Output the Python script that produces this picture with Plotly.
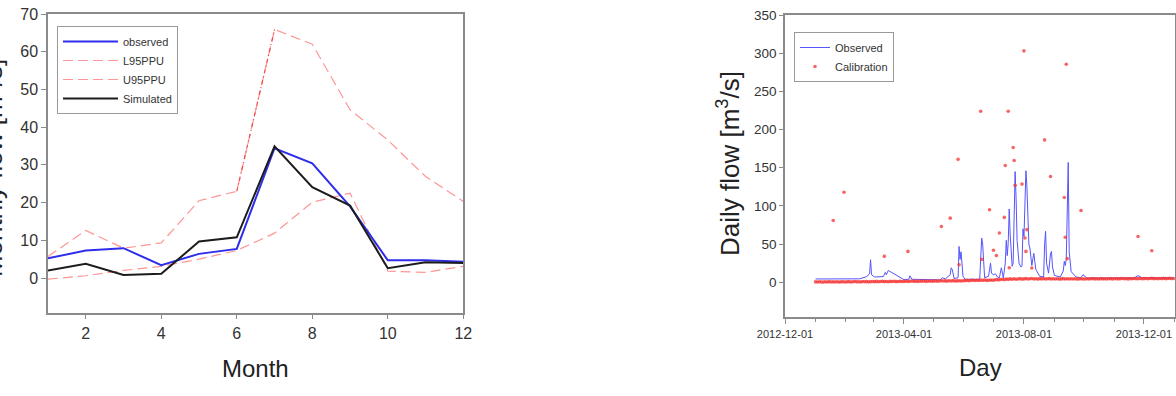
import pandas as pd
import plotly.graph_objects as go

# ---------------- Left chart data (monthly) ----------------
months = [1, 2, 3, 4, 5, 6, 7, 8, 9, 10, 11, 12]
monthly_observed = [5.2, 7.3, 7.9, 3.4, 6.4, 7.7, 34.4, 30.4, 19.0, 4.7, 4.7, 4.3]
monthly_simulated = [2.0, 3.8, 0.8, 1.1, 9.7, 10.8, 34.9, 24.1, 19.2, 2.6, 4.2, 4.0]
l95ppu = [-0.3, 0.6, 2.0, 3.1, 5.0, 7.3, 11.9, 20.1, 22.5, 1.8, 1.5, 3.1]
u95ppu = [5.7, 12.6, 7.9, 9.3, 20.5, 23.0, 65.9, 62.0, 44.6, 36.6, 26.9, 20.3]
month_ticks = [2, 4, 6, 8, 10, 12]
flow_ticks = [0, 10, 20, 30, 40, 50, 60, 70]

# ---------------- Right chart data (daily) ----------------
obs_dates = [
    "2013-01-01", "2013-02-15", "2013-02-22", "2013-02-25", "2013-02-26", "2013-02-27",
    "2013-03-02", "2013-03-11", "2013-03-13", "2013-03-14", "2013-03-16", "2013-03-18",
    "2013-03-25", "2013-04-01", "2013-04-06", "2013-04-07", "2013-04-09", "2013-05-08",
    "2013-05-10", "2013-05-13", "2013-05-18", "2013-05-19", "2013-05-20", "2013-05-22",
    "2013-05-26", "2013-05-27", "2013-05-28", "2013-05-29", "2013-05-31", "2013-06-02",
    "2013-06-17", "2013-06-19", "2013-06-20", "2013-06-22", "2013-06-26", "2013-06-28",
    "2013-06-29", "2013-07-01", "2013-07-03", "2013-07-05", "2013-07-07", "2013-07-09",
    "2013-07-11", "2013-07-13", "2013-07-14", "2013-07-15", "2013-07-16", "2013-07-17",
    "2013-07-18", "2013-07-19", "2013-07-20", "2013-07-21", "2013-07-22", "2013-07-23",
    "2013-07-24", "2013-07-25", "2013-07-27", "2013-07-29", "2013-07-30", "2013-07-31",
    "2013-08-01", "2013-08-02", "2013-08-03", "2013-08-04", "2013-08-05", "2013-08-06",
    "2013-08-07", "2013-08-09", "2013-08-11", "2013-08-12", "2013-08-13", "2013-08-17",
    "2013-08-21", "2013-08-22", "2013-08-23", "2013-08-24", "2013-08-26", "2013-08-28",
    "2013-08-29", "2013-08-30", "2013-09-01", "2013-09-07", "2013-09-10", "2013-09-11",
    "2013-09-12", "2013-09-13", "2013-09-14", "2013-09-15", "2013-09-16", "2013-09-18",
    "2013-09-23", "2013-09-28", "2013-09-30", "2013-10-04", "2013-11-21", "2013-11-25",
    "2013-11-29", "2013-12-31",
]
obs_values = [
    4.4, 4.6, 7.5, 11, 29.6, 10,
    7, 7.5, 13, 10, 15.5, 14,
    8, 3.5, 4, 8.5, 4, 3.2,
    6, 4.5, 10, 19, 17, 5,
    6, 47, 30, 40, 8, 4,
    4, 58, 50, 6, 8, 25,
    12, 10, 11, 7, 6, 19,
    6, 25, 55, 35, 52, 96,
    62, 40, 21, 25, 78, 145,
    110, 55, 25, 20, 22, 70,
    60, 100, 146, 125, 70, 50,
    45, 22, 38, 30, 17, 8,
    7, 50, 66.7, 25, 12, 38,
    40.5, 20, 9, 7, 15, 27.5,
    22, 30, 121, 157, 40, 14,
    7, 6, 10, 5.5, 5.7, 8.8,
    6, 5.7,
]

calib_peak_dates = [
    "2013-01-19", "2013-01-30", "2013-03-12", "2013-04-05", "2013-05-09", "2013-05-18",
    "2013-05-26", "2013-05-27", "2013-06-18", "2013-06-19", "2013-06-27", "2013-07-01",
    "2013-07-04", "2013-07-07", "2013-07-12", "2013-07-13", "2013-07-16", "2013-07-17",
    "2013-07-21", "2013-07-22", "2013-07-23", "2013-07-30", "2013-08-01", "2013-08-02",
    "2013-08-03", "2013-08-04", "2013-08-09", "2013-08-22", "2013-08-28", "2013-09-11",
    "2013-09-12", "2013-09-13", "2013-09-14", "2013-09-28", "2013-11-25", "2013-12-09",
]
calib_peak_values = [
    81, 118, 34, 40.5, 73, 84,
    161, 23, 224, 30, 95, 42,
    35, 64.5, 85, 153, 224, 19,
    176.5, 159.5, 127, 128.6, 303, 58,
    40.5, 69, 18.8, 186.5, 138.6, 111,
    59, 285.5, 31, 94, 60, 41.4,
]
# baseline calibration values, every second day from 2013-01-01
calib_base_start = "2013-01-01"
calib_base_values = [
    0.6, 0.4, 0.8, 0.5, 0.3, 0.7, 0.5, 0.9, 0.4, 0.6, 0.5, 0.8, 0.3, 0.6, 0.7, 0.5,
    0.6, 0.9, 0.5, 0.7, 1.0, 0.6, 0.8, 0.5, 1.1, 0.7, 0.9, 0.6, 0.8, 1.0,
    0.9, 1.2, 0.8, 1.0, 1.3, 0.9, 1.1, 0.8, 1.2, 1.0, 1.4, 0.9, 1.1, 1.3, 1.0,
    1.2, 1.5, 1.1, 1.4, 1.7, 1.3, 1.5, 1.2, 1.6, 1.4, 1.8, 1.3, 1.5, 1.7, 1.4,
    1.6, 1.9, 1.5, 1.8, 2.1, 1.7, 1.9, 1.6, 2.0, 1.8, 2.2, 1.7, 1.9, 2.1, 1.8, 2.0,
    2.2, 2.6, 2.1, 2.5, 2.8, 2.3, 2.7, 2.4, 2.9, 2.6, 3.0, 2.5, 2.8, 3.1, 2.7,
    3.0, 3.6, 3.2, 3.8, 4.1, 3.5, 4.2, 3.9, 4.5, 4.0, 4.6, 4.1, 4.4, 4.8, 4.2,
    4.5, 4.9, 4.3, 4.7, 5.0, 4.4, 4.6, 4.2, 4.8, 4.5, 4.9, 4.3, 4.6, 4.8, 4.4, 4.7,
    4.3, 4.6, 4.2, 4.5, 4.8, 4.4, 4.6, 4.3, 4.7, 4.4, 4.6, 4.2, 4.5, 4.7, 4.4,
    4.4, 4.7, 4.3, 4.6, 4.9, 4.5, 4.7, 4.4, 4.8, 4.5, 4.7, 4.3, 4.6, 4.8, 4.5,
    4.6, 4.9, 4.5, 4.8, 5.0, 4.6, 4.8, 4.5, 4.9, 4.7, 5.1, 4.6, 4.8, 5.0, 4.7,
    4.8, 5.1, 4.7, 5.0, 5.2, 4.8, 5.0, 4.7, 5.1, 4.9, 5.2, 4.8, 5.0, 5.2, 4.9, 5.1,
]
date_ticks_start = "2012-12-01"

FONT = "Liberation Sans, Arial, sans-serif"
AX = "#8a8a8a"
TXT = "#333333"
W, H = 1176, 396

fig = go.Figure()

# ---- Left chart traces ----
pink = "rgb(255,150,150)"
fig.add_trace(go.Scatter(x=months, y=l95ppu, mode="lines", name="L95PPU",
                         line=dict(color=pink, width=1.2, dash="10px,5px"),
                         legend="legend", legendrank=2, xaxis="x", yaxis="y"))
fig.add_trace(go.Scatter(x=months, y=u95ppu, mode="lines", name="U95PPU",
                         line=dict(color=pink, width=1.2, dash="10px,5px"),
                         legend="legend", legendrank=3, xaxis="x", yaxis="y"))
fig.add_trace(go.Scatter(x=months[5:7], y=u95ppu[5:7], mode="lines", showlegend=False,
                         line=dict(color="rgb(240,70,70)", width=1.2, dash="4px,3px,1px,3px"),
                         xaxis="x", yaxis="y", hoverinfo="skip"))
fig.add_trace(go.Scatter(x=months, y=monthly_observed, mode="lines", name="observed",
                         line=dict(color="rgb(45,45,235)", width=2),
                         legend="legend", legendrank=1, xaxis="x", yaxis="y"))
fig.add_trace(go.Scatter(x=months, y=monthly_simulated, mode="lines", name="Simulated",
                         line=dict(color="#1c1c1c", width=2),
                         legend="legend", legendrank=4, xaxis="x", yaxis="y"))

# ---- Right chart traces ----
base_dates = pd.date_range(calib_base_start, periods=len(calib_base_values), freq="2D")
calib_dates = list(base_dates.strftime("%Y-%m-%d")) + calib_peak_dates
calib_values = calib_base_values + calib_peak_values

fig.add_trace(go.Scatter(x=obs_dates, y=obs_values, mode="lines", name="Observed",
                         line=dict(color="rgb(85,85,250)", width=1),
                         legend="legend2", xaxis="x2", yaxis="y2"))
fig.add_trace(go.Scatter(x=calib_dates, y=calib_values, mode="markers", name="Calibration",
                         marker=dict(color="rgba(245,50,50,0.75)", size=3.6, line=dict(width=0)),
                         legend="legend2", xaxis="x2", yaxis="y2"))

axis_common = dict(showline=True, mirror=True, linecolor=AX, linewidth=1.5,
                   ticks="outside", tickcolor=AX, tickwidth=1.2,
                   showgrid=False, zeroline=False, automargin=False)

fig.update_layout(
    width=W, height=H,
    margin=dict(l=0, r=0, t=0, b=0, pad=0, autoexpand=False),
    paper_bgcolor="white", plot_bgcolor="white",
    font=dict(family=FONT, color=TXT),
    xaxis=dict(domain=[48 / W, 463.3 / W], range=[1, 12], tickmode="array",
               tickvals=month_ticks, ticklen=5, tickfont=dict(size=16, color=TXT),
               anchor="y", **axis_common),
    yaxis=dict(domain=[83.3 / H, 382 / H], range=[-9.2, 70], tickmode="array",
               tickvals=flow_ticks, ticklen=5, tickfont=dict(size=16, color=TXT),
               anchor="x", **axis_common),
    xaxis2=dict(domain=[785 / W, 0.9995], type="date",
                range=["2012-12-01", "2014-01-02"],
                tick0=date_ticks_start, dtick="M4", tickformat="%Y-%m-%d",
                ticklen=6, tickfont=dict(size=11, color=TXT),
                minor=dict(dtick="M1", tick0=date_ticks_start, ticks="outside",
                           ticklen=4, tickcolor=AX, showgrid=False),
                anchor="y2", **axis_common),
    yaxis2=dict(domain=[79.3 / H, 381 / H], range=[-45, 350], tick0=0, dtick=50,
                ticklen=4, tickfont=dict(size=13.5, color=TXT),
                anchor="x2", **axis_common),
    legend=dict(x=57 / W, y=(H - 26) / H, xanchor="left", yanchor="top",
                bgcolor="white", bordercolor="#9a9a9a", borderwidth=1,
                font=dict(size=11, color=TXT), traceorder="normal",
                tracegroupgap=0, itemwidth=55),
    legend2=dict(x=794 / W, y=(H - 32) / H, xanchor="left", yanchor="top",
                 bgcolor="white", bordercolor="#9a9a9a", borderwidth=1,
                 font=dict(size=11, color=TXT), tracegroupgap=0, itemwidth=30),
    showlegend=True,
)

title_font = dict(family=FONT, size=24, color="#222222")
ytitle_font = dict(family=FONT, size=26, color="#222222")
fig.add_annotation(text="Month", xref="paper", yref="paper", x=255 / W, y=(H - 368) / H,
                   xanchor="center", yanchor="middle", showarrow=False, font=title_font)
fig.add_annotation(text="Day", xref="paper", yref="paper", x=980 / W, y=(H - 367) / H,
                   xanchor="center", yanchor="middle", showarrow=False, font=title_font)
fig.add_annotation(text="Daily flow [m<sup>3</sup>/s]", xref="paper", yref="paper",
                   x=728 / W, y=(H - 164) / H, xanchor="center", yanchor="middle",
                   textangle=-90, showarrow=False, font=ytitle_font)
fig.add_annotation(text="Monthly flow [m<sup>3</sup>/s]", xref="paper", yref="paper",
                   x=-8 / W, y=(H - 168) / H, xanchor="center", yanchor="middle",
                   textangle=-90, showarrow=False, font=ytitle_font)

fig.write_html("out.html")
